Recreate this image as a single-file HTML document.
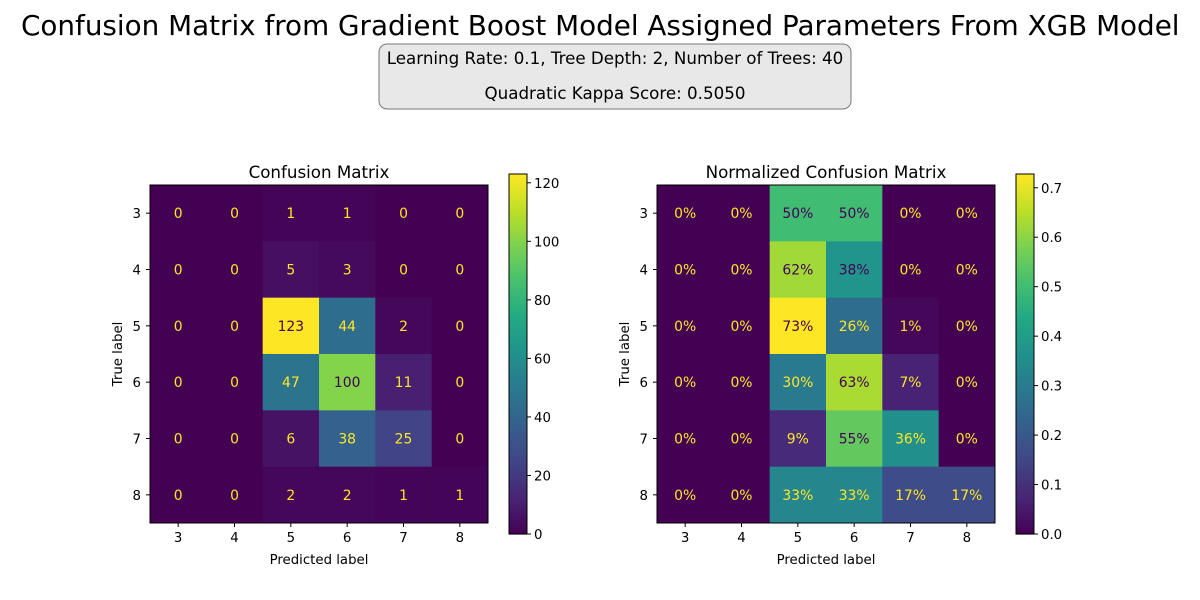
<!DOCTYPE html>
<html><head><meta charset="utf-8"><style>
html,body{margin:0;padding:0;background:#fff;}
svg{display:block;font-family:"DejaVu Sans","Liberation Sans",sans-serif;}
</style></head><body>
<svg id="chart" width="1200" height="600" viewBox="0 0 1200 600">
<text x="21" y="35" text-anchor="start" font-size="27.8" fill="#000">Confusion Matrix from Gradient Boost Model Assigned Parameters From XGB Model</text>
<rect x="379" y="44" width="472" height="65" rx="8" fill="#e8e8e8" stroke="#777" stroke-width="1"/>
<text x="615" y="64" text-anchor="middle" font-size="16.7" fill="#000">Learning Rate: 0.1, Tree Depth: 2, Number of Trees: 40</text>
<text x="615" y="99" text-anchor="middle" font-size="16.7" fill="#000">Quadratic Kappa Score: 0.5050</text>
</svg>
<script>
const labels = [3,4,5,6,7,8];
const counts = [
 [0,0,1,1,0,0],
 [0,0,5,3,0,0],
 [0,0,123,44,2,0],
 [0,0,47,100,11,0],
 [0,0,6,38,25,0],
 [0,0,2,2,1,1]
];
const countTicks = [0,20,40,60,80,100,120];
const normTicks = [0,0.1,0.2,0.3,0.4,0.5,0.6,0.7];

const NS="http://www.w3.org/2000/svg";
const svg=document.getElementById('chart');
function mk(tag,attrs,parent){const e=document.createElementNS(NS,tag);for(const k in attrs)e.setAttribute(k,attrs[k]);(parent||svg).appendChild(e);return e;}
const vstops=["#440154","#482475","#414487","#355f8d","#2a788e","#21918c","#22a884","#44bf70","#7ad151","#bddf26","#fde725"];
function hex(h){return [1,3,5].map(i=>parseInt(h.substr(i,2),16));}
function viridis(t){t=Math.max(0,Math.min(1,t));const p=t*10,i=Math.min(9,Math.floor(p)),f=p-i;const a=hex(vstops[i]),b=hex(vstops[i+1]);return `rgb(${a.map((v,k)=>Math.round(v+(b[k]-v)*f)).join(',')})`;}
function roundHalfEven(x){const f=Math.floor(x),d=x-f;if(Math.abs(d-0.5)<1e-9)return f%2===0?f:f+1;return Math.round(x);}

function drawPanel(ox,title,mat,vmax,fmt,ticks,tickFmt,prefix){
  const x0=ox,y0=185,size=338,cell=size/labels.length;
  const xs=i=>x0+cell*(i+0.5), ys=i=>y0+cell*(i+0.5);
  const g=mk('g',{});
  
  
  const t=mk('text',{x:x0+size/2,y:y0-7,'text-anchor':'middle','font-size':16.7},g);t.textContent=title;
  
  
  const mid=vmax/2;
  mat.forEach((row,r)=>row.forEach((v,c)=>{
    const rc=mk('rect',{x:x0+c*cell,y:y0+r*cell,width:cell+0.5,height:cell+0.5,fill:viridis(v/vmax)},g);
    
    
    const tx=mk('text',{x:xs(c),y:ys(r)+5,'text-anchor':'middle','font-size':13.9,fill:v>mid?'#440154':'#fde725'},g);
    tx.textContent=fmt(v);
    
    
  }));
  mk('rect',{x:x0,y:y0,width:size,height:size,fill:'none',stroke:'#000','stroke-width':1},g);
  labels.forEach((l,i)=>{
    mk('line',{x1:xs(i),x2:xs(i),y1:y0+size,y2:y0+size+4,stroke:'#000'},g);
    const a=mk('text',{x:xs(i),y:y0+size+19,'text-anchor':'middle','font-size':13.3},g);a.textContent=l;
    
    
    mk('line',{x1:x0-4,x2:x0,y1:ys(i),y2:ys(i),stroke:'#000'},g);
    const b=mk('text',{x:x0-9,y:ys(i)+5,'text-anchor':'end','font-size':13.3},g);b.textContent=l;
    
    
  });
  const xl=mk('text',{x:x0+size/2,y:y0+size+41,'text-anchor':'middle','font-size':13.3},g);xl.textContent='Predicted label';
  
  
  const yl=mk('text',{x:0,y:0,'text-anchor':'middle','font-size':13.3,transform:`translate(${x0-28},${y0+size/2}) rotate(-90)`},g);yl.textContent='True label';
  
  
  const cx=x0+359,cy0=174,cy1=534,cw=18;
  const cb=mk('g',{},g);
  
  
  const n=120;
  for(let k=0;k<n;k++){const h=(cy1-cy0)/n;mk('rect',{x:cx,y:cy1-(k+1)*h,width:cw,height:h+0.6,fill:viridis((k+0.5)/n)},cb);}
  mk('rect',{x:cx,y:cy0,width:cw,height:cy1-cy0,fill:'none',stroke:'#000'},cb);
  const cyv=v=>cy1-(cy1-cy0)*v/vmax;
  ticks.forEach(v=>{
    mk('line',{x1:cx+cw,x2:cx+cw+4,y1:cyv(v),y2:cyv(v),stroke:'#000'},cb);
    const tt=mk('text',{x:cx+cw+7,y:cyv(v)+5,'font-size':13.3},cb);tt.textContent=tickFmt(v);
    
    
  });
}
const maxCount=Math.max(...counts.flat());
drawPanel(150,'Confusion Matrix',counts,maxCount,v=>String(v),countTicks,v=>String(v),'counts');
const norm=counts.map(r=>{const s=r.reduce((a,b)=>a+b,0);return r.map(v=>s?v/s:0);});
const maxNorm=Math.max(...norm.flat());
drawPanel(657,'Normalized Confusion Matrix',norm,maxNorm,v=>roundHalfEven(v*100)+'%',normTicks,v=>v.toFixed(1),'normalized');
</script>
</body></html>
